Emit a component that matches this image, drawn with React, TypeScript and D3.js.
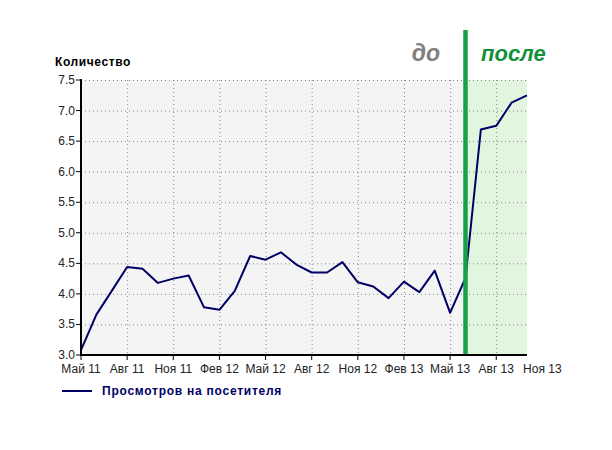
import React from "react";
import * as d3 from "d3";

const months: string[] = [
  "2011-05","2011-06","2011-07","2011-08","2011-09","2011-10","2011-11","2011-12",
  "2012-01","2012-02","2012-03","2012-04","2012-05","2012-06","2012-07","2012-08",
  "2012-09","2012-10","2012-11","2012-12","2013-01","2013-02","2013-03","2013-04",
  "2013-05","2013-06","2013-07","2013-08","2013-09","2013-10",
];
const viewsPerVisitor: number[] = [
  3.08, 3.66, 4.05, 4.44, 4.41, 4.18, 4.25, 4.30,
  3.78, 3.74, 4.05, 4.62, 4.56, 4.68, 4.48, 4.35,
  4.35, 4.52, 4.19, 4.12, 3.93, 4.20, 4.03, 4.38,
  3.69, 4.26, 6.69, 6.75, 7.13, 7.25,
];
const xTickIndex: number[] = [0, 3, 6, 9, 12, 15, 18, 21, 24, 27, 30];
const xTickLabels: string[] = [
  "Май 11","Авг 11","Ноя 11","Фев 12","Май 12","Авг 12","Ноя 12","Фев 13","Май 13","Авг 13","Ноя 13",
];
const yTicks: number[] = [3.0, 3.5, 4.0, 4.5, 5.0, 5.5, 6.0, 6.5, 7.0, 7.5];
const changeIndex = 25;
const seriesName = "Просмотров на посетителя";
const yTitle = "Количество";
const beforeLabel = "до";
const afterLabel = "после";

export default function App() {
  const left = 81, right = 527, top = 80, bottom = 355;
  const x = d3.scaleLinear().domain([0, months.length - 1]).range([left, right]);
  const y = d3.scaleLinear().domain([3, 7.5]).range([bottom, top]);
  const line = d3.line<number>().x((_, i) => x(i)).y((d) => y(d));
  const font = "'Liberation Sans', Arial, sans-serif";
  const navy = "#000066";
  const green = "#17a048";
  const cx = x(changeIndex);

  return (
    <svg width={612} height={450} style={{ position: "absolute", left: 0, top: 0, background: "#fff" }} fontFamily={font}>
      <rect x={left} y={top} width={right - left} height={bottom - top} fill="#f4f4f4" />
      <rect x={cx} y={top} width={right - cx} height={bottom - top} fill="#e2f5de" />
      {yTicks.filter((t) => t > 3).map((t) => (
        <line key={"h" + t} x1={left} x2={right} y1={y(t) + 0.5} y2={y(t) + 0.5}
          stroke="#888" strokeWidth={1} strokeDasharray="1,3" />
      ))}
      {xTickIndex.filter((i) => i > 0 && i < months.length).map((i) => (
        <line key={"v" + i} x1={x(i) + 0.5} x2={x(i) + 0.5} y1={top} y2={bottom}
          stroke="#888" strokeWidth={1} strokeDasharray="1,3" />
      ))}
      <path d={line(viewsPerVisitor) ?? ""} fill="none" stroke={navy} strokeWidth={2} strokeLinejoin="round" />
      <line x1={cx} x2={cx} y1={30} y2={bottom} stroke={green} strokeWidth={4.5} />
      <line x1={left} x2={left} y1={top - 1} y2={bottom + 1} stroke="#000" strokeWidth={2} />
      <line x1={left - 1} x2={right} y1={bottom} y2={bottom} stroke="#000" strokeWidth={2} />
      {yTicks.map((t) => (
        <g key={"yt" + t}>
          <line x1={left - 5} x2={left} y1={y(t)} y2={y(t)} stroke="#000" strokeWidth={1} />
          <text x={left - 6} y={y(t) + 4} textAnchor="end" fontSize={12} fill="#222">{t.toFixed(1)}</text>
        </g>
      ))}
      {xTickIndex.map((i, k) => (
        <g key={"xt" + i}>
          {i < months.length && (
            <line x1={x(i)} x2={x(i)} y1={bottom} y2={bottom + 5} stroke="#000" strokeWidth={1} />
          )}
          <text x={x(i)} y={bottom + 18} textAnchor="middle" fontSize={12} fill="#222">{xTickLabels[k]}</text>
        </g>
      ))}
      <text x={55} y={66} fontSize={12} fontWeight="bold" fill="#000" letterSpacing={0.6}>{yTitle}</text>
      <line x1={62} x2={92} y1={391} y2={391} stroke={navy} strokeWidth={2} />
      <text x={102} y={395} fontSize={12} fontWeight="bold" fill={navy} letterSpacing={0.75}>{seriesName}</text>
      <text x={440} y={61} textAnchor="end" fontSize={23} fontWeight="bold" fontStyle="italic" fill="#808080">{beforeLabel}</text>
      <text x={481} y={61} fontSize={22} fontWeight="bold" fontStyle="italic" fill="#13913a">{afterLabel}</text>
    </svg>
  );
}
